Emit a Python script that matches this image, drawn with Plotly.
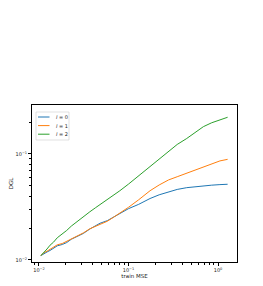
import plotly.graph_objects as go

# train MSE values (x) and DGL for each l
mse = [0.0105, 0.0113, 0.0123, 0.0133, 0.0145, 0.016, 0.0182, 0.0204, 0.023, 0.0265, 0.0313, 0.037, 0.043, 0.048,
       0.058, 0.068, 0.08, 0.1, 0.13, 0.174, 0.22, 0.28, 0.35, 0.447, 0.55, 0.686, 0.85, 1.05, 1.28]
dgl_l0 = [0.0110, 0.0115, 0.0119, 0.0123, 0.0128, 0.0136, 0.0140, 0.0146, 0.0157, 0.0166, 0.0178, 0.0196, 0.0210, 0.0222,
          0.0235, 0.0254, 0.0270, 0.0305, 0.0335, 0.0380, 0.0412, 0.0441, 0.0463, 0.0481, 0.0492, 0.0502, 0.0508, 0.0514, 0.0518]
dgl_l1 = [0.0110, 0.0117, 0.0121, 0.0126, 0.0131, 0.0139, 0.0143, 0.0150, 0.0160, 0.0168, 0.0180, 0.0197, 0.0209, 0.0218,
          0.0232, 0.0253, 0.0275, 0.0314, 0.0370, 0.0450, 0.0510, 0.0569, 0.0610, 0.0658, 0.0705, 0.0760, 0.0810, 0.0860, 0.0890]
dgl_l2 = [0.0110, 0.0117, 0.0127, 0.0138, 0.0147, 0.0162, 0.0175, 0.0190, 0.0209, 0.0230, 0.0256, 0.0285, 0.0312, 0.0333,
          0.0370, 0.0405, 0.0450, 0.0520, 0.0620, 0.0760, 0.0900, 0.1050, 0.1230, 0.1400, 0.1600, 0.1810, 0.1970, 0.2110, 0.2220]

names = ["<i>l</i> = 0", "<i>l</i> = 1", "<i>l</i> = 2"]
colors = ["#1f77b4", "#ff7f0e", "#2ca02c"]
values = [dgl_l0, dgl_l1, dgl_l2]

x_ticks = [0.01, 0.1, 1]
x_ticktext = ["10<sup>−2</sup>", "10<sup>−1</sup>", "10<sup>0</sup>"]
y_ticks = [0.01, 0.1]
y_ticktext = ["10<sup>−2</sup>", "10<sup>−1</sup>"]

# page body has an 8px default margin, so the figure is drawn offset by 8px
W, H = 255, 278
L, R, T, B = 24, 26, 97, 24
PW, PH = W - L - R, H - T - B  # 205 x 157

fig = go.Figure()
for name, ys, col in zip(names, values, colors):
    fig.add_trace(go.Scatter(x=mse, y=ys, mode="lines", name=name,
                             line=dict(color=col, width=1), showlegend=False))

x_minor = [m * 10.0 ** e for e in (-3, -2, -1, 0) for m in range(2, 10)]
y_minor = [m * 10.0 ** e for e in (-3, -2, -1) for m in range(2, 10)]

axis_common = dict(showline=True, linecolor="#000", linewidth=0.8, mirror=True,
                   ticks="outside", ticklen=3, tickwidth=0.8, tickcolor="#000",
                   showgrid=False, zeroline=False, automargin=False,
                   tickfont=dict(size=5, color="#222"))

fig.update_xaxes(type="log", range=[-2.078, 0.212], tickmode="array", tickvals=x_ticks,
                 ticktext=x_ticktext, title=dict(text="train MSE", font=dict(size=5.5, color="#222"), standoff=2),
                 minor=dict(tickmode="array", tickvals=x_minor, ticks="outside", ticklen=1.8,
                            tickwidth=0.6, tickcolor="#000", showgrid=False),
                 **axis_common)
fig.update_yaxes(type="log", range=[-2.019, -0.538], tickmode="array", tickvals=y_ticks,
                 ticktext=y_ticktext, title=dict(text="DGL", font=dict(size=5.5, color="#222"), standoff=2),
                 minor=dict(tickmode="array", tickvals=y_minor, ticks="outside", ticklen=1.8,
                            tickwidth=0.6, tickcolor="#000", showgrid=False),
                 **axis_common)

# manual compact legend (matplotlib style); positions in plot-area pixels
def px_x(p):
    return p / PW

def px_y(p):
    return 1 - p / PH

shapes = [dict(type="rect", xref="paper", yref="paper",
               x0=px_x(4), x1=px_x(37), y0=px_y(35), y1=px_y(7),
               line=dict(color="#cccccc", width=0.6), fillcolor="rgba(255,255,255,0.8)", layer="above")]
annotations = []
for i, (name, col) in enumerate(zip(names, colors)):
    yp = px_y(12 + i * 8.6)
    shapes.append(dict(type="line", xref="paper", yref="paper",
                       x0=px_x(6), x1=px_x(17.5), y0=yp, y1=yp,
                       line=dict(color=col, width=1), layer="above"))
    annotations.append(dict(text=name, xref="paper", yref="paper", x=px_x(21.5), y=yp,
                            xanchor="left", yanchor="middle", showarrow=False,
                            font=dict(size=5, color="#222")))

fig.update_layout(
    width=W, height=H,
    margin=dict(l=L, r=R, t=T, b=B, pad=0),
    paper_bgcolor="white", plot_bgcolor="white",
    font=dict(family="DejaVu Sans", size=5, color="#222"),
    shapes=shapes, annotations=annotations,
    showlegend=False,
)

fig.write_html("out.html")
